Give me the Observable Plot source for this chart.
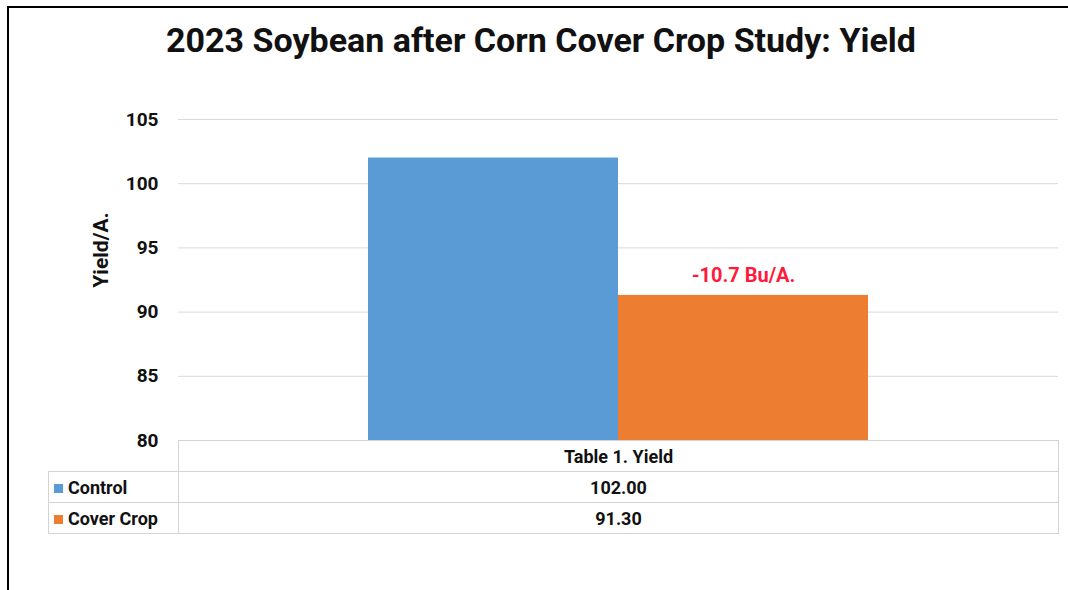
<!DOCTYPE html>
<html>
<head>
<meta charset="utf-8">
<script src="https://cdn.jsdelivr.net/npm/d3@7"></script>
<script src="https://cdn.jsdelivr.net/npm/@observablehq/plot@0.6"></script>
<style>
  html, body { margin: 0; padding: 0; background: #fff; }
  #wrap { position: relative; width: 1068px; height: 590px; overflow: hidden; font-family: Roboto, "Liberation Sans", sans-serif; }
  #frame { position: absolute; left: 7px; top: 6px; width: 1100px; height: 700px; border-left: 2px solid #000; border-top: 2px solid #000; }
  #title { position: absolute; top: 23px; left: 541px; transform: translateX(-50%); white-space: nowrap; font-size: 34px; line-height: 34px; font-weight: 700; color: #111; }
  #chart { position: absolute; left: 0; top: 100px; }
  #ylabel { position: absolute; left: 101px; top: 250px; transform: translate(-50%, -50%) rotate(-90deg); white-space: nowrap; font-size: 21px; font-weight: 700; color: #111; }
  table.dt { position: absolute; left: 48px; top: 440px; border-collapse: collapse; font-size: 18px; font-weight: 700; color: #111; }
  table.dt td { border: 1px solid #d4d4d4; padding: 0; height: 30px; }
  table.dt td.lab { width: 124px; text-align: left; padding-left: 5px; white-space: nowrap; }
  table.dt td.val { width: 879px; text-align: center; }
  table.dt td.empty { border-left: none; border-top: none; }
  .sw { display: inline-block; width: 9px; height: 9px; margin-right: 5px; vertical-align: 1px; }
</style>
</head>
<body>
<div id="wrap">
  <div id="frame"></div>
  <div id="title"></div>
  <div id="chart"></div>
  <div id="ylabel"></div>
</div>
<script>
const titleText = "2023 Soybean after Corn Cover Crop Study: Yield";
const yLabel = "Yield/A.";
const category = "Table 1. Yield";
const series = ["Control", "Cover Crop"];
const values = [102.00, 91.30];
const colors = ["#5b9bd5", "#ed7d31"];
const yTicks = [80, 85, 90, 95, 100, 105];
const annotation = { series: "Cover Crop", value: 91.30, text: "-10.7 Bu/A." };

const data = series.map((s, i) => ({ series: s, value: values[i] }));

document.getElementById("title").textContent = titleText;
document.getElementById("ylabel").textContent = yLabel;

const plot = Plot.plot({
  width: 1068,
  height: 345,
  marginTop: 19,
  marginBottom: 5,
  marginLeft: 178,
  marginRight: 10,
  style: { fontFamily: "Roboto, sans-serif", background: "transparent", overflow: "visible" },
  x: { domain: series, paddingInner: 0, paddingOuter: 0.76, axis: null },
  y: { domain: [80, 105], ticks: yTicks, label: null },
  color: { domain: series, range: colors },
  marks: [
    Plot.ruleY(yTicks, { stroke: "#d9d9d9", strokeWidth: 1 }),
    Plot.barY(data, { x: "series", y1: 80, y2: "value", fill: "series" }),
    Plot.axisY({ ticks: yTicks, tickSize: 0, tickPadding: 20, fontSize: 19, fontWeight: "bold", fill: "#111", label: null }),
    Plot.text([annotation], { x: "series", y: "value", text: "text", dy: -20, fill: "#ff1a3c", fontSize: 20, fontWeight: "bold" })
  ]
});
document.getElementById("chart").appendChild(plot);

// data table
const tbl = document.createElement("table");
tbl.className = "dt";
const head = tbl.insertRow();
const e = head.insertCell(); e.className = "lab empty";
const h = head.insertCell(); h.className = "val"; h.textContent = category;
data.forEach((d, i) => {
  const r = tbl.insertRow();
  const c1 = r.insertCell(); c1.className = "lab";
  const sw = document.createElement("span"); sw.className = "sw"; sw.style.background = colors[i];
  c1.appendChild(sw); c1.appendChild(document.createTextNode(d.series));
  const c2 = r.insertCell(); c2.className = "val"; c2.textContent = d.value.toFixed(2);
});
document.getElementById("wrap").appendChild(tbl);
</script>
</body>
</html>
